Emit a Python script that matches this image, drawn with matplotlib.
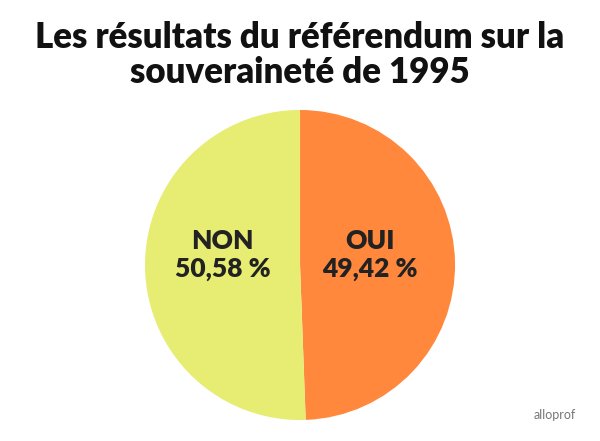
import matplotlib
matplotlib.use('Agg')
import matplotlib.pyplot as plt

categories = ["OUI", "NON"]
values = [49.42, 50.58]
value_labels = ["49,42 %", "50,58 %"]
colors = ["#FF883D", "#E6ED72"]
title = "Les résultats du référendum sur la\nsouveraineté de 1995"

plt.rcParams['font.family'] = ['Lato', 'DejaVu Sans']

fig = plt.figure(figsize=(6, 4.41), dpi=100)
fig.text(0.5, 0.875, title, ha='center', va='center', fontsize=25,
         fontweight='heavy', color='#111111', linespacing=1.05)

ax = fig.add_axes([0.2417, 0.0476, 0.5167, 0.703])
wedges, _ = ax.pie(values, colors=colors, startangle=90, counterclock=False,
                   radius=1.0, labels=None)
ax.set_aspect('equal')
ax.set_xlim(-1, 1)
ax.set_ylim(-1, 1)

label_pos = [(0.45, 0.065), (-0.5, 0.065)]
for (x, y), cat, lab in zip(label_pos, categories, value_labels):
    ax.text(x, y, cat + "\n" + lab, ha='center', va='center', fontsize=19,
            fontweight='heavy', color='#222222', linespacing=1.2)

fig.text(0.925, 0.059, "alloprof", ha='center', va='center', fontsize=9,
         color='#777777')

fig.savefig('out.png', dpi=100)
